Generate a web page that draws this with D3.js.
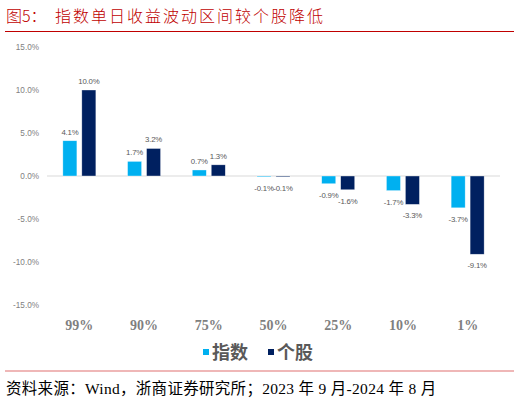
<!DOCTYPE html>
<html>
<head>
<meta charset="utf-8">
<script src="https://cdn.jsdelivr.net/npm/d3@7"></script>
<style>
  body { margin: 0; background: #fff; }
  svg { display: block; }
</style>
</head>
<body>
<div id="chart"></div>
<script>
// data
var categories = ["99%", "90%", "75%", "50%", "25%", "10%", "1%"];
var indexValues = [4.1, 1.7, 0.7, -0.1, -0.9, -1.7, -3.7];
var stockValues = [10.0, 3.2, 1.3, -0.1, -1.6, -3.3, -9.1];
var seriesNames = ["指数", "个股"];
var seriesColors = ["#00B0F0", "#002060"];
var yTicks = [15, 10, 5, 0, -5, -10, -15];

var width = 520, height = 402;
var margin = { top: 47, right: 20, bottom: 97, left: 47 };

var svg = d3.select("#chart")
  .append("svg")
  .attr("width", width)
  .attr("height", height);

// title + red rule
svg.append("text")
  .attr("x", 6)
  .attr("y", 22)
  .attr("fill", "#C00000")
  .attr("font-family", "'Noto Sans CJK SC', sans-serif")
  .attr("font-size", 16)
  .attr("font-weight", 300)
  .text("图5：");
svg.append("text")
  .attr("x", 55)
  .attr("y", 22)
  .attr("fill", "#C00000")
  .attr("font-family", "'Noto Sans CJK SC', sans-serif")
  .attr("font-size", 16)
  .attr("font-weight", 300)
  .attr("letter-spacing", 2)
  .text("指数单日收益波动区间较个股降低");
svg.append("line")
  .attr("x1", 5).attr("x2", 514)
  .attr("y1", 31.5).attr("y2", 31.5)
  .attr("stroke", "#C00000")
  .attr("stroke-width", 1.2);

var x0 = d3.scaleBand()
  .domain(categories)
  .range([margin.left, width - margin.right])
  .paddingInner(0.49)
  .paddingOuter(0.245);

var x1 = d3.scaleBand()
  .domain([0, 1])
  .range([0, x0.bandwidth()])
  .paddingInner(0.26);

var y = d3.scaleLinear()
  .domain([-15, 15])
  .range([height - margin.bottom, margin.top]);

// y labels
svg.append("g")
  .selectAll("text")
  .data(yTicks)
  .enter()
  .append("text")
  .attr("x", 39)
  .attr("y", function(d) { return y(d) + 3; })
  .attr("text-anchor", "end")
  .attr("fill", "#7F7F7F")
  .attr("font-family", "'Liberation Sans', Arial, sans-serif")
  .attr("font-size", 8.2)
  .text(function(d) { return d.toFixed(1) + "%"; });

// zero line
svg.append("line")
  .attr("x1", margin.left).attr("x2", width - margin.right)
  .attr("y1", y(0)).attr("y2", y(0))
  .attr("stroke", "#D9D9D9")
  .attr("stroke-width", 1);

var rows = categories.map(function(c, i) {
  return { cat: c, values: [indexValues[i], stockValues[i]] };
});

var groups = svg.append("g")
  .selectAll("g")
  .data(rows)
  .enter()
  .append("g")
  .attr("transform", function(d) { return "translate(" + x0(d.cat) + ",0)"; });

var cells = groups.selectAll("g")
  .data(function(d) { return d.values.map(function(v, k) { return { k: k, v: v }; }); })
  .enter()
  .append("g");

cells.append("rect")
  .attr("x", function(d) { return x1(d.k); })
  .attr("width", x1.bandwidth())
  .attr("y", function(d) { return y(Math.max(0, d.v)); })
  .attr("height", function(d) { return Math.max(0.8, Math.abs(y(d.v) - y(0))); })
  .attr("fill", function(d) { return seriesColors[d.k]; })
  .attr("stroke", "#ffffff")
  .attr("stroke-opacity", 0.6)
  .attr("stroke-width", 0.6);

cells.append("text")
  .attr("x", function(d) { return x1(d.k) + x1.bandwidth() / 2; })
  .attr("y", function(d) { return d.v >= 0 ? y(d.v) - 6 : y(d.v) + 14; })
  .attr("text-anchor", "middle")
  .attr("fill", "#595959")
  .attr("font-family", "'Liberation Sans', Arial, sans-serif")
  .attr("font-size", 7.8)
  .attr("letter-spacing", -0.2)
  .text(function(d) { return d.v.toFixed(1) + "%"; });

// category labels
svg.append("g")
  .selectAll("text")
  .data(categories)
  .enter()
  .append("text")
  .attr("x", function(d) { return x0(d) + x0.bandwidth() / 2; })
  .attr("y", 330)
  .attr("text-anchor", "middle")
  .attr("fill", "#7F7F7F")
  .attr("font-family", "'Liberation Serif', 'Times New Roman', serif")
  .attr("font-weight", "bold")
  .attr("font-size", 14)
  .text(function(d) { return d; });

// legend
var legendX = [203, 268];
var legend = svg.append("g")
  .selectAll("g")
  .data(seriesNames)
  .enter()
  .append("g")
  .attr("transform", function(d, i) { return "translate(" + legendX[i] + ",349)"; });
legend.append("rect")
  .attr("width", 6).attr("height", 6)
  .attr("fill", function(d, i) { return seriesColors[i]; });
legend.append("text")
  .attr("x", 9)
  .attr("y", 10)
  .attr("fill", "#595959")
  .attr("font-family", "'Noto Sans CJK SC', sans-serif")
  .attr("font-weight", "bold")
  .attr("font-size", 18)
  .text(function(d) { return d; });

// bottom rule + source
svg.append("line")
  .attr("x1", 5).attr("x2", 514)
  .attr("y1", 371).attr("y2", 371)
  .attr("stroke", "#E07070")
  .attr("stroke-width", 1.2);
svg.append("text")
  .attr("x", 6)
  .attr("y", 394)
  .attr("fill", "#000")
  .attr("font-family", "'Liberation Serif', 'Noto Sans CJK SC', serif")
  .attr("font-size", 15.5)
  .attr("letter-spacing", 0.3)
  .text("资料来源：Wind，浙商证券研究所；2023 年 9 月-2024 年 8 月");
</script>
</body>
</html>
